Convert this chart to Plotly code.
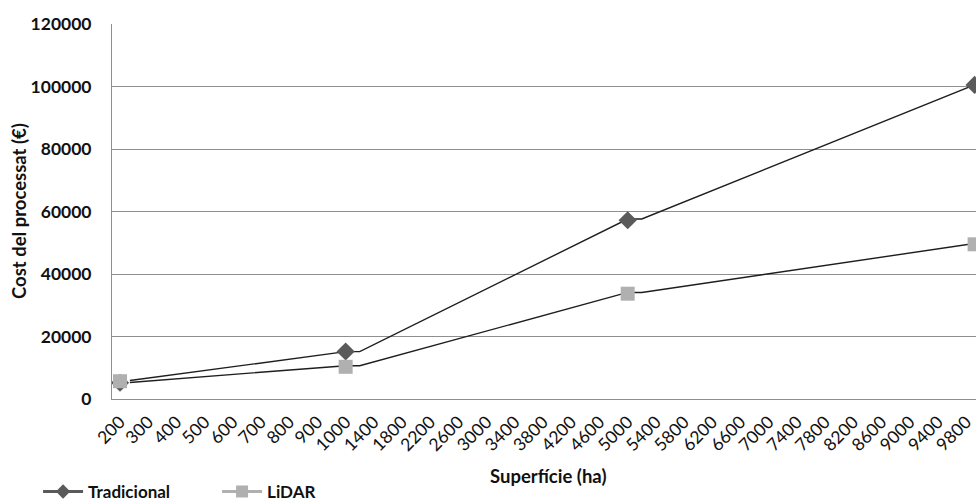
import plotly.graph_objects as go

# Category labels of the horizontal axis (Superfície, ha)
categories = ["200", "300", "400", "500", "600", "700", "800", "900", "1000",
              "1400", "1800", "2200", "2600", "3000", "3400", "3800", "4200",
              "4600", "5000", "5400", "5800", "6200", "6600", "7000", "7400",
              "7800", "8200", "8600", "9000", "9400", "9800"]

# Marker series (position on the category axis, value in €)
point_pos = [0, 8, 18, 30.3]
tradicional = [5200, 15200, 57200, 100500]
lidar = [5700, 10300, 33700, 49500]

# Black connecting lines (position on the category axis, value in €)
line_pos = [0.35, 8, 8.5, 18, 18.5, 30.4]
tradicional_line = [5900, 15150, 15150, 57600, 57600, 100900]
lidar_line = [5300, 10650, 10650, 34100, 34100, 49900]

y_ticks = [0, 20000, 40000, 60000, 80000, 100000, 120000]

FONT = "Lato"
DARK = "#5a5a5a"
LIGHT = "#b0b0b0"

fig = go.Figure()

# connecting lines
fig.add_trace(go.Scatter(x=line_pos, y=tradicional_line, mode="lines",
                         line=dict(color="#1e1e1e", width=1.4), showlegend=False,
                         hoverinfo="skip"))
fig.add_trace(go.Scatter(x=line_pos, y=lidar_line, mode="lines",
                         line=dict(color="#1e1e1e", width=1.4), showlegend=False,
                         hoverinfo="skip"))

# markers
fig.add_trace(go.Scatter(x=point_pos, y=tradicional, mode="markers",
                         marker=dict(symbol="diamond", size=14, color=DARK),
                         showlegend=False, name="Tradicional"))
fig.add_trace(go.Scatter(x=point_pos, y=lidar, mode="markers",
                         marker=dict(symbol="square", size=14, color=LIGHT),
                         showlegend=False, name="LiDAR"))

# legend entries
fig.add_trace(go.Scatter(x=[None], y=[None], mode="lines+markers", name="Tradicional",
                         line=dict(color=DARK, width=3),
                         marker=dict(symbol="diamond", size=11, color=DARK)))
fig.add_trace(go.Scatter(x=[None], y=[None], mode="lines+markers", name="LiDAR",
                         line=dict(color=LIGHT, width=3),
                         marker=dict(symbol="square", size=12, color=LIGHT)))

fig.update_layout(
    width=976, height=503,
    margin=dict(l=112, r=0, t=24, b=104),
    paper_bgcolor="white", plot_bgcolor="white",
    font=dict(family=FONT, color="#111111"),
    showlegend=True,
    legend=dict(orientation="h", xref="container", yref="container",
                x=0.039, y=0.022, xanchor="left", yanchor="middle",
                font=dict(family=FONT, size=17, weight="bold", color="#111111"),
                bgcolor="rgba(0,0,0,0)", entrywidth=124, itemwidth=40),
    xaxis=dict(range=[-0.284, 30.35], tickmode="array",
               tickvals=list(range(len(categories))), ticktext=categories,
               tickangle=-45, showgrid=False, zeroline=False,
               showline=True, linecolor="#8f8f8f", linewidth=1,
               ticks="", tickfont=dict(family=FONT, size=17.5, color="#111111"),
               ticklabelstandoff=5),
    yaxis=dict(range=[0, 120000], tickmode="array", tickvals=y_ticks,
               ticktext=[str(v) for v in y_ticks],
               showgrid=True, gridcolor="#8f8f8f", gridwidth=1, zeroline=False,
               showline=True, linecolor="#8f8f8f", linewidth=1, ticks="",
               tickfont=dict(family=FONT, size=17.5, weight="bold", color="#111111"),
               ticklabelstandoff=16),
)

fig.add_annotation(text="Superfície (ha)", xref="paper", yref="paper",
                   x=(548 - 112) / 864, y=-(476 - 399) / 375, xanchor="center", yanchor="middle",
                   showarrow=False,
                   font=dict(family=FONT, size=18.5, weight="bold", color="#111111"))
fig.add_annotation(text="Cost del processat (€)", xref="paper", yref="paper",
                   x=-(112 - 18.5) / 864, y=0.5, xanchor="center", yanchor="middle",
                   textangle=-90, showarrow=False,
                   font=dict(family=FONT, size=18.5, weight="bold", color="#111111"))

fig.write_html("out.html")
